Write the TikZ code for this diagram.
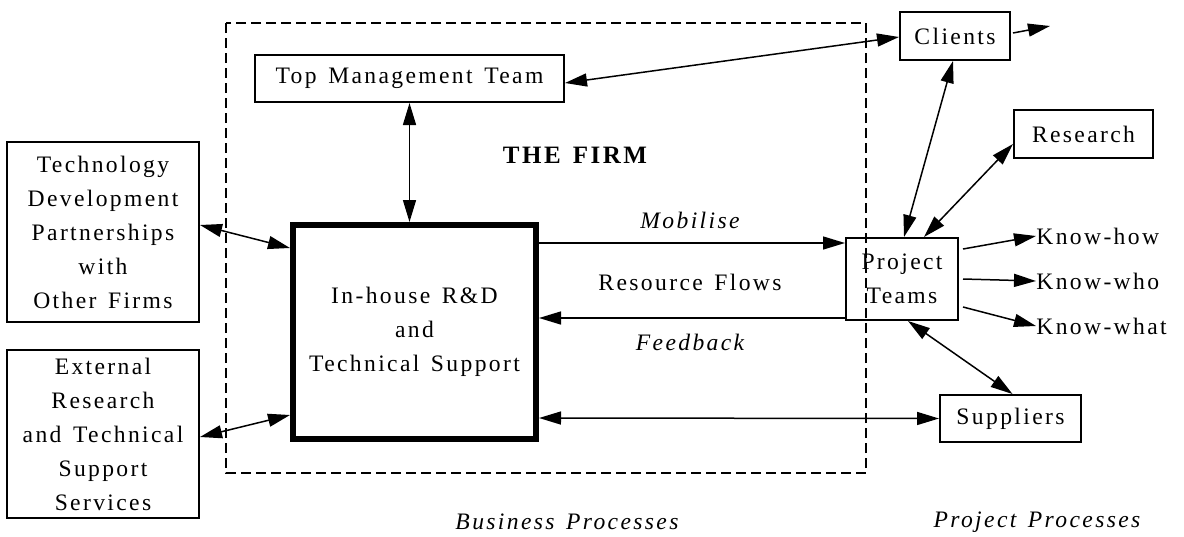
\documentclass[tikz,border=0pt]{standalone}
\usepackage{fontspec}
\setmainfont[LetterSpace=10,WordSpace=1.4]{Liberation Serif}
\usepackage{tikz}
\usetikzlibrary{arrows.meta}

\tikzset{
  box/.style={draw, line width=1pt, inner sep=0pt, align=center},
  arr/.style={-{Triangle[length=11pt,width=6.5pt]}, line width=0.75pt},
  darr/.style={{Triangle[length=11pt,width=6.5pt]}-{Triangle[length=11pt,width=6.5pt]}, line width=0.75pt}
}

\begin{document}
\begin{tikzpicture}[x=0.5pt,y=-0.5pt,every node/.style={font=\fontsize{11.8}{17}\selectfont}]
				\useasboundingbox (0,0) rectangle (1184,536);
				% the firm
				\draw[line width=0.75pt, dash pattern=on 5pt off 2.5pt] (226,23) rectangle (866,473);
				\node[box, minimum width=154.5pt, minimum height=23.5pt] (tm) at (409.5,78.5) {Top Management Team};
				\node[box, line width=3pt, minimum width=121.5pt, minimum height=107pt] (rd) at (414.5,332) {In-house R\&D\\and\\Technical Support};
				\node[font=\fontsize{12.5}{15}\selectfont\bfseries] (firm) at (575,155) {THE FIRM};
				% outside
				\node[box, minimum width=96pt, minimum height=90pt] (tech) at (103,232) {Technology\\Development\\Partnerships\\with\\Other Firms};
				\node[box, minimum width=96pt, minimum height=84pt] (ext) at (103,434) {External\\Research\\and Technical\\Support\\Services};
				\node[box, minimum width=55pt, minimum height=24pt] (cl) at (955,36) {Clients};
				\node[box, minimum width=69.5pt, minimum height=24pt] (res) at (1083.5,134) {Research};
				\node[box, minimum width=56pt, minimum height=41pt] (pt) at (902,279) {Project\\Teams};
				\node[box, minimum width=70.5pt, minimum height=23.5pt] (sup) at (1010.5,418.5) {Suppliers};
				\node[anchor=west, inner sep=0pt] (kh) at (1036,236) {Know-how};
				\node[anchor=west, inner sep=0pt] (kwho) at (1036,281) {Know-who};
				\node[anchor=west, inner sep=0pt] (kwhat) at (1036,326) {Know-what};
				\coordinate (out) at (1050,26);
				% labels
				\node[font=\fontsize{11.8}{17}\selectfont\itshape] (mob) at (690,220) {Mobilise};
				\node (flows) at (690,282) {Resource Flows};
				\node[font=\fontsize{11.8}{17}\selectfont\itshape] (fb) at (690,342) {Feedback};
				\node[font=\fontsize{11.8}{17}\selectfont\itshape] (bp) at (567,522) {Business Processes};
				\node[font=\fontsize{11.8}{17}\selectfont\itshape] (pp) at (1037,522) {Project Processes};
				% connectors
				\draw[darr] (tm.south) -- (rd.north -| tm.south);
				\draw[darr] ([yshift=-2.25pt]tm.east) -- ([yshift=-0.5pt]cl.west);
				\draw[darr] ([yshift=3.5pt]tech.east) -- ([yshift=42pt]rd.west);
				\draw[darr] ([yshift=-1.5pt]ext.east) -- ([yshift=-41.5pt]rd.west);
				\draw[arr] ([yshift=44.5pt]rd.east) -- ([yshift=18pt]pt.west);
				\draw[arr] ([yshift=-19.5pt]pt.west) -- ([yshift=7pt]rd.east);
				\draw[darr] ([yshift=-43pt]rd.east) -- (sup.west);
				\draw[arr] ([xshift=1pt,yshift=1.5pt]cl.east) -- (out);
				\draw[darr] ([xshift=-1pt]cl.south) -- ([xshift=1pt]pt.north);
				\draw[darr] ([yshift=-5pt]res.west) -- ([xshift=11pt]pt.north);
				\draw[arr] ([xshift=2pt,yshift=15pt]pt.east) -- (kh.west);
				\draw[arr] ([xshift=2pt]pt.east) -- (kwho.west);
				\draw[arr] ([xshift=2pt,yshift=-14pt]pt.east) -- (kwhat.west);
				\draw[darr] ([xshift=3pt]pt.south) -- ([xshift=1pt]sup.north);
			\end{tikzpicture}
\end{document}
